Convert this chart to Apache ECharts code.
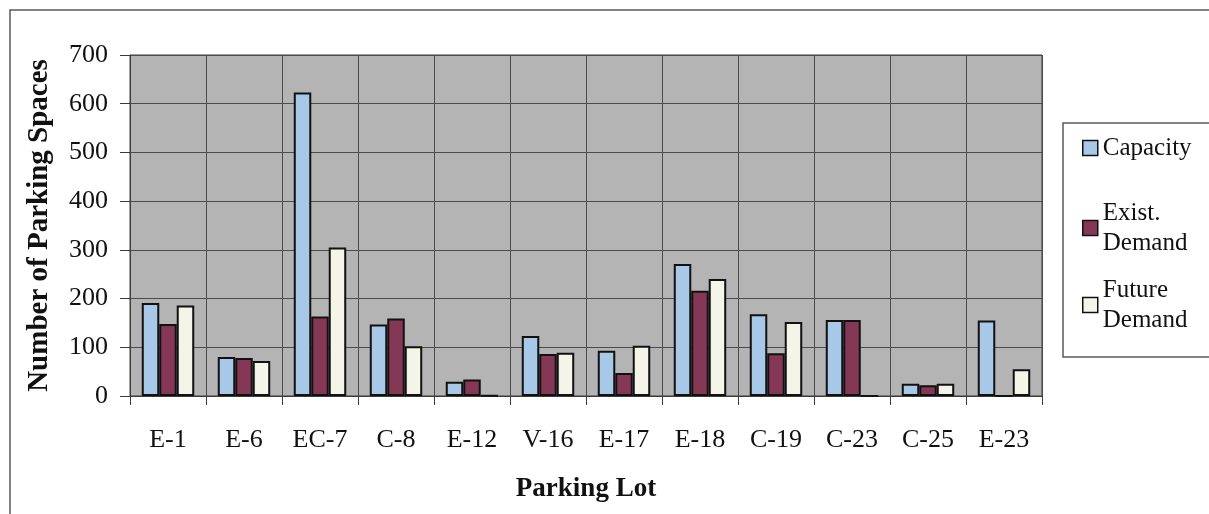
<!DOCTYPE html>
<html>
<head>
<meta charset="utf-8">
<title>Parking Lot Capacity and Demand</title>
<script src="https://cdn.jsdelivr.net/npm/echarts@6/dist/echarts.min.js"></script>
<style>
  html, body { margin: 0; padding: 0; background: #ffffff; }
  #chart { width: 1209px; height: 514px; }
</style>
</head>
<body>
<div id="chart"></div>
<script>
// Parking lots and space counts per lot
const categories = ['E-1', 'E-6', 'EC-7', 'C-8', 'E-12', 'V-16', 'E-17', 'E-18', 'C-19', 'C-23', 'C-25', 'E-23'];
const capacity   = [191, 80, 623, 147, 29, 123, 93, 271, 168, 156, 25, 155];
const existing   = [148, 78, 163, 159, 34, 86, 47, 216, 88, 156, 22, 0];
const future     = [186, 72, 305, 102, 1, 89, 103, 240, 152, 0, 25, 55];
const yTicks     = { min: 0, max: 700, interval: 100 };

const SERIF = "'Liberation Serif', 'Times New Roman', serif";
const INK = '#111111';
const colors = { capacity: '#a8c8e8', existing: '#853856', future: '#f5f4e8' };

const chart = echarts.init(document.getElementById('chart'), null, { renderer: 'canvas' });

// One legend block per series so each marker sits beside the first text line
function legendBlock(name, label, top, twoLines) {
  return {
    orient: 'vertical',
    left: 1082,
    top: top,
    padding: 0,
    itemWidth: 15,
    itemHeight: 15,
    itemGap: 0,
    selectedMode: false,
    icon: 'rect',
    itemStyle: { borderColor: INK, borderWidth: 1.5 },
    formatter: () => label,
    textStyle: {
      fontFamily: SERIF,
      fontSize: 25,
      color: INK,
      lineHeight: 30,
      padding: twoLines ? [30, 0, 0, 0] : 0
    },
    data: [name]
  };
}

const barBorder = { borderColor: INK, borderWidth: 2 };

chart.setOption({
  animation: false,
  backgroundColor: '#ffffff',
  graphic: [
    {
      type: 'rect',
      shape: { x: 10, y: 10, width: 1240, height: 540 },
      style: { fill: 'none', stroke: '#5a5a5a', lineWidth: 1.5 },
      silent: true,
      z: -1
    },
    {
      type: 'rect',
      shape: { x: 1063, y: 123, width: 200, height: 234 },
      style: { fill: '#ffffff', stroke: '#5a5a5a', lineWidth: 1.5 },
      silent: true,
      z: -1
    }
  ],
  grid: {
    left: 130,
    top: 55,
    width: 912,
    height: 341,
    show: true,
    backgroundColor: '#b4b4b4',
    borderColor: '#3c3c3c',
    borderWidth: 1
  },
  legend: [
    legendBlock('Capacity', 'Capacity', 133, false),
    legendBlock('Exist. Demand', 'Exist.\nDemand', 183, true),
    legendBlock('Future Demand', 'Future\nDemand', 260, true)
  ],
  xAxis: {
    type: 'category',
    data: categories,
    boundaryGap: true,
    name: 'Parking Lot',
    nameLocation: 'middle',
    nameGap: 80,
    nameTextStyle: { fontFamily: SERIF, fontSize: 27, fontWeight: 'bold', color: INK },
    axisLine: { show: true, lineStyle: { color: '#3c3c3c', width: 1 } },
    axisTick: { show: true, length: 9, lineStyle: { color: '#3c3c3c' } },
    axisLabel: { fontFamily: SERIF, fontSize: 26, color: INK, margin: 31, interval: 0 },
    splitLine: { show: true, interval: 0, lineStyle: { color: '#4c4c4c', width: 1 } }
  },
  yAxis: {
    type: 'value',
    min: yTicks.min,
    max: yTicks.max,
    interval: yTicks.interval,
    name: 'Number of Parking Spaces',
    nameLocation: 'middle',
    nameGap: 76,
    nameTextStyle: { fontFamily: SERIF, fontSize: 29, fontWeight: 'bold', color: INK },
    axisLine: { show: true, lineStyle: { color: '#3c3c3c', width: 1 } },
    axisTick: { show: true, length: 10, lineStyle: { color: '#3c3c3c' } },
    axisLabel: { fontFamily: SERIF, fontSize: 26, color: INK, margin: 22 },
    splitLine: { show: true, lineStyle: { color: '#4c4c4c', width: 1 } }
  },
  series: [
    {
      name: 'Capacity',
      type: 'bar',
      data: capacity,
      barGap: '0%',
      barCategoryGap: '31%',
      itemStyle: Object.assign({ color: colors.capacity }, barBorder)
    },
    {
      name: 'Exist. Demand',
      type: 'bar',
      data: existing,
      barGap: '0%',
      barCategoryGap: '31%',
      itemStyle: Object.assign({ color: colors.existing }, barBorder)
    },
    {
      name: 'Future Demand',
      type: 'bar',
      data: future,
      barGap: '0%',
      barCategoryGap: '31%',
      itemStyle: Object.assign({ color: colors.future }, barBorder)
    }
  ]
});
</script>
</body>
</html>
